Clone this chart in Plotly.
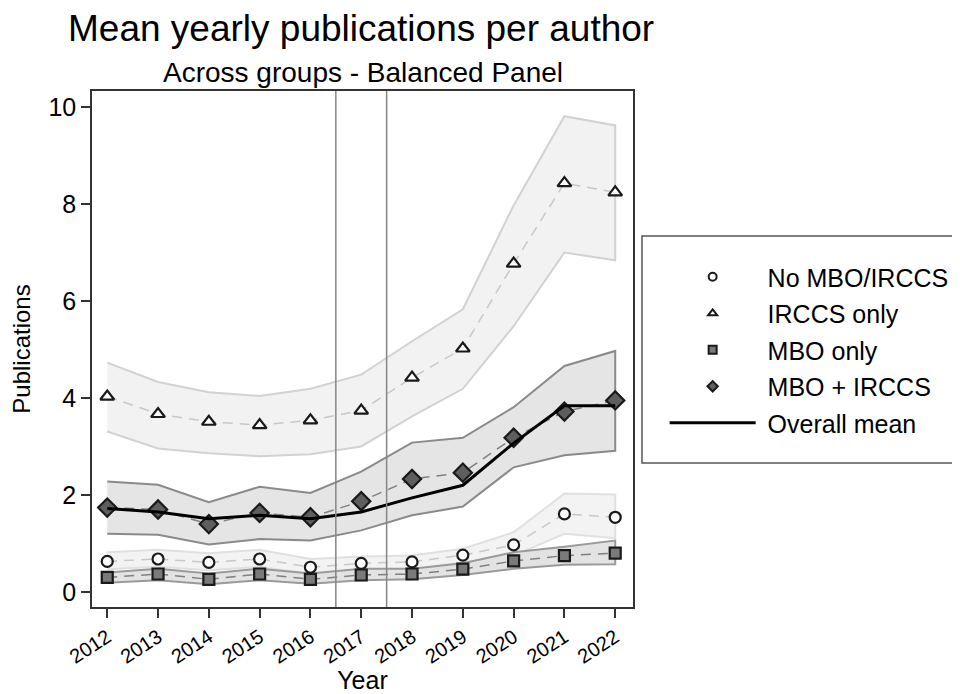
import plotly.graph_objects as go

years = [2012, 2013, 2014, 2015, 2016, 2017, 2018, 2019, 2020, 2021, 2022]

# No MBO/IRCCS
none_mean = [0.63, 0.68, 0.61, 0.68, 0.51, 0.59, 0.62, 0.76, 0.97, 1.61, 1.54]
none_hi = [0.82, 0.87, 0.80, 0.87, 0.68, 0.73, 0.75, 0.89, 1.23, 2.03, 2.01]
none_lo = [0.47, 0.52, 0.45, 0.52, 0.37, 0.45, 0.47, 0.61, 0.75, 1.20, 1.11]

# IRCCS only
irccs_mean = [4.03, 3.67, 3.51, 3.44, 3.54, 3.74, 4.42, 5.02, 6.77, 8.43, 8.24]
irccs_hi = [4.73, 4.33, 4.12, 4.04, 4.19, 4.48, 5.17, 5.83, 7.97, 9.81, 9.62]
irccs_lo = [3.31, 2.96, 2.86, 2.80, 2.84, 3.00, 3.62, 4.19, 5.48, 7.00, 6.84]

# MBO only
mbo_mean = [0.30, 0.37, 0.26, 0.37, 0.26, 0.35, 0.37, 0.47, 0.64, 0.75, 0.80]
mbo_hi = [0.40, 0.48, 0.38, 0.48, 0.38, 0.48, 0.48, 0.59, 0.82, 0.93, 1.06]
mbo_lo = [0.19, 0.24, 0.16, 0.24, 0.17, 0.24, 0.26, 0.35, 0.48, 0.56, 0.57]

# MBO + IRCCS
both_mean = [1.74, 1.70, 1.40, 1.63, 1.54, 1.87, 2.33, 2.46, 3.18, 3.72, 3.95]
both_hi = [2.28, 2.21, 1.85, 2.17, 2.04, 2.48, 3.08, 3.18, 3.81, 4.66, 4.97]
both_lo = [1.20, 1.18, 0.98, 1.09, 1.06, 1.27, 1.58, 1.76, 2.57, 2.82, 2.91]

# Overall mean
overall_mean = [1.72, 1.65, 1.51, 1.58, 1.51, 1.65, 1.94, 2.20, 3.07, 3.84, 3.84]

policy_lines = [2016.5, 2017.5]
y_ticks = [0, 2, 4, 6, 8, 10]

FONT = "Liberation Sans, Arial, sans-serif"
NB = "\u00a0"
W, H = 952, 686  # page body has an 8px margin

fig = go.Figure()


def band(lo, hi, fill, edge):
    fig.add_trace(go.Scatter(
        x=years + years[::-1], y=hi + lo[::-1], mode="lines",
        fill="toself", fillcolor=fill,
        line=dict(color=edge, width=2), showlegend=False, hoverinfo="skip"))


band(irccs_lo, irccs_hi, "#f2f2f2", "#d2d2d2")
band(both_lo, both_hi, "#e5e5e5", "#8a8a8a")
band(none_lo, none_hi, "#f3f3f3", "#e0e0e0")
band(mbo_lo, mbo_hi, "#e3e3e3", "#9a9a9a")

series = [
    ("No MBO/IRCCS", none_mean, "circle", "white", "#c8c8c8", 11),
    ("IRCCS only", irccs_mean, "triangle-up", "white", "#c8c8c8", 12),
    ("MBO only", mbo_mean, "square", "#7a7a7a", "#808080", 11),
    ("MBO + IRCCS", both_mean, "diamond", "#5e5e5e", "#808080", 14),
]

for name, vals, sym, fc, lc, sz in series:
    fig.add_trace(go.Scatter(
        x=years, y=vals, mode="lines+markers", showlegend=False,
        line=dict(color=lc, width=1.5, dash="10px,7px"),
        marker=dict(symbol=sym, color=fc, size=sz,
                    line=dict(color="#1a1a1a", width=2.2))))

fig.add_trace(go.Scatter(x=years, y=overall_mean, mode="lines", showlegend=False,
                         line=dict(color="black", width=3)))

# legend entries
for i, (name, vals, sym, fc, lc, sz) in enumerate(series):
    fig.add_trace(go.Scatter(
        x=[None], y=[None], mode="markers", name=NB + name, legendgroup=f"g{i}",
        marker=dict(symbol=sym, color=fc, size=8,
                    line=dict(color="#1a1a1a", width=2))))
fig.add_trace(go.Scatter(x=[None], y=[None], mode="lines", name=NB + "Overall mean",
                         legendgroup="g5", line=dict(color="black", width=3)))

for xv in policy_lines:
    fig.add_vline(x=xv, line=dict(color="#868686", width=1.5), layer="above")

# legend frame
fig.add_shape(type="rect", xref="paper", yref="paper",
              x0=1.0166, x1=1.6007, y0=0.279, y1=0.719,
              line=dict(color="#555555", width=1.5), fillcolor="rgba(0,0,0,0)")

fig.add_annotation(text="Across groups - Balanced Panel", xref="paper", yref="paper",
                   x=0.5, y=1.035, xanchor="center", yanchor="middle",
                   showarrow=False, font=dict(size=28, color="black", family=FONT))

fig.update_layout(
    width=W, height=H,
    margin=dict(l=84, r=327, t=83, b=87, autoexpand=False),
    paper_bgcolor="white", plot_bgcolor="white",
    font=dict(family=FONT, color="black"),
    title=dict(text="Mean yearly publications per author", x=60 / W, xanchor="left",
               xref="container", y=1 - 20 / H, yanchor="middle", yref="container",
               font=dict(size=37, color="black", family=FONT)),
    showlegend=True,
    legend=dict(x=1.0585, xanchor="left", y=0.684, yanchor="top",
                font=dict(size=25, family=FONT, color="black"),
                bgcolor="rgba(0,0,0,0)", borderwidth=0,
                itemwidth=86, tracegroupgap=1),
    xaxis=dict(range=[2011.7, 2022.35], tickvals=years, tickangle=-33,
               ticks="outside", ticklen=9, tickwidth=1.5, tickcolor="#333333",
               showline=True, linecolor="#333333", linewidth=1.5, mirror=True,
               showgrid=False, zeroline=False, automargin=False,
               tickfont=dict(size=20, family=FONT, color="black"),
               title=dict(text="Year", font=dict(size=25, family=FONT, color="black"),
                          standoff=8)),
    yaxis=dict(range=[-0.31, 10.33], tickvals=y_ticks,
               ticks="outside", ticklen=9, tickwidth=1.5, tickcolor="#333333",
               showline=True, linecolor="#333333", linewidth=1.5, mirror=True,
               showgrid=False, zeroline=False, automargin=False,
               tickfont=dict(size=25, family=FONT, color="black"),
               title=dict(text="Publications", font=dict(size=24, family=FONT, color="black"),
                          standoff=12)),
)

fig.write_html("out.html")
